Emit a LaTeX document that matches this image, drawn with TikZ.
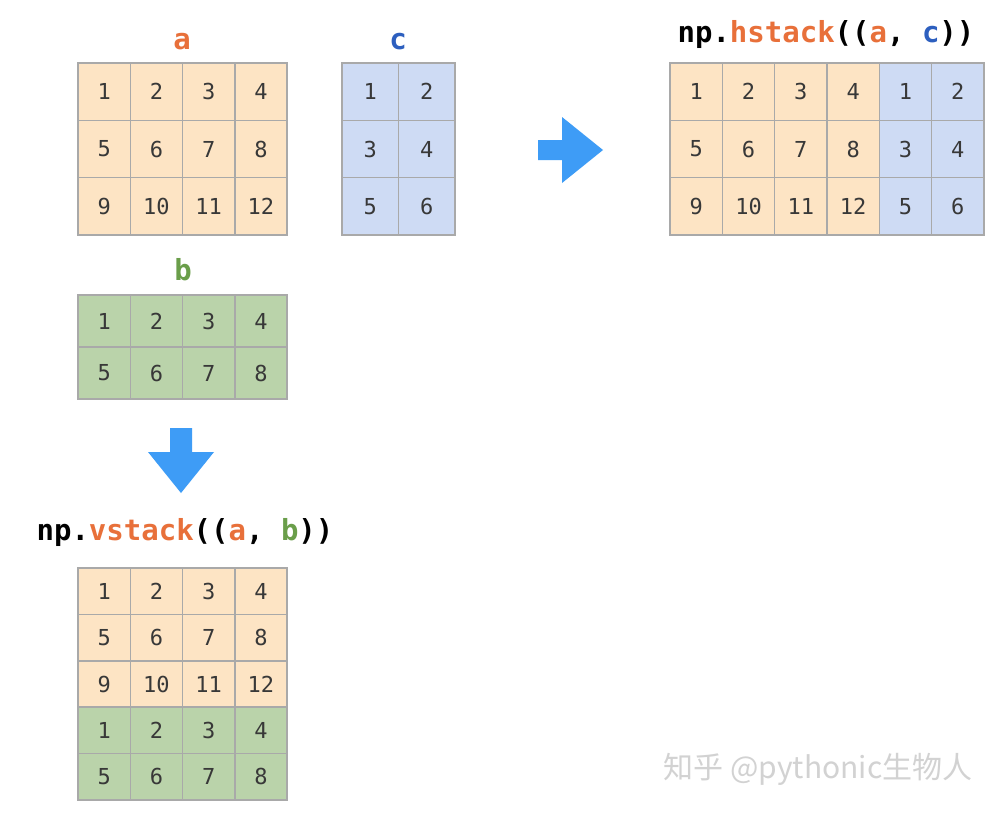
\documentclass[tikz,border=0pt]{standalone}
\usepackage{fontspec}
\setmonofont{DejaVu Sans Mono}
\newfontfamily\cjkfont{Noto Sans CJK SC}
\definecolor{afill}{HTML}{FDE4C4}
\definecolor{cfill}{HTML}{CEDBF4}
\definecolor{bfill}{HTML}{BAD3AA}
\definecolor{gridgray}{HTML}{A9A9A9}
\definecolor{numcol}{HTML}{383838}
\definecolor{acol}{HTML}{E8703A}
\definecolor{ccol}{HTML}{2D5FBF}
\definecolor{bcol}{HTML}{6A9E4A}
\definecolor{arrowblue}{HTML}{3E9CF6}
\definecolor{wmcol}{HTML}{D2D2D2}
\tikzset{
  cell/.style={draw=gridgray, line width=1.5pt, inner sep=0pt, text=numcol,
    font=\ttfamily\fontsize{22}{22}\selectfont},
  mlabel/.style={anchor=base, inner sep=0pt, font=\ttfamily\bfseries\fontsize{29}{29}\selectfont},
  bigarrow/.style={fill=arrowblue, draw=none},
  watermark/.style={anchor=base, inner sep=0pt, text=wmcol, font=\cjkfont\fontsize{30}{30}\selectfont}
}
% name, left, top, cell w, cell h, rows, cols, fill
\newcommand\gridmat[8]{%
  \foreach \r in {1,...,#6}{%
    \foreach \c in {1,...,#7}{%
      \pgfmathtruncatemacro\v{(\r-1)*#7+\c}%
      \node[cell, fill=#8, minimum width=#4pt, minimum height=#5pt]
        (#1-\r-\c) at ({#2+(\c-0.5)*#4},{#3+(\r-0.5)*#5}) {\v};
    }%
  }%
}
\begin{document}
\begin{tikzpicture}[x=1pt,y=-1pt]
\useasboundingbox (0,0) rectangle (998,812);
\fill[white] (0,0) rectangle (998,812);
% matrices
\gridmat{a}{78}{63}{52.25}{57.33}{3}{4}{afill}
\gridmat{c}{342}{63}{56.5}{57.33}{3}{2}{cfill}
\gridmat{b}{78}{295}{52.25}{52}{2}{4}{bfill}
\gridmat{ha}{670}{63}{52.33}{57.33}{3}{4}{afill}
\gridmat{hc}{879.3}{63}{52.33}{57.33}{3}{2}{cfill}
\gridmat{va}{78}{568}{52.25}{46.4}{3}{4}{afill}
\gridmat{vb}{78}{707.2}{52.25}{46.4}{2}{4}{bfill}
% labels
\node[mlabel, text=acol] (la) at (182,49) {a};
\node[mlabel, text=ccol] (lc) at (398,49) {c};
\node[mlabel, text=bcol] (lb) at (183,280) {b};
\node[mlabel] (lh) at (826,42) {np.\textcolor{acol}{hstack}((\textcolor{acol}{a}, \textcolor{ccol}{c}))};
\node[mlabel] (lv) at (185,540) {np.\textcolor{acol}{vstack}((\textcolor{acol}{a}, \textcolor{bcol}{b}))};
% arrows
\fill[bigarrow] (538,140) -- (562,140) -- (562,117) -- (603,150) -- (562,183) -- (562,160) -- (538,160) -- cycle;
\fill[bigarrow] (170,428) -- (192,428) -- (192,452) -- (214,452) -- (181,493) -- (148,452) -- (170,452) -- cycle;
% watermark
\node[watermark] (wm) at (818,778) {知乎 @pythonic生物人};
\end{tikzpicture}
\end{document}
